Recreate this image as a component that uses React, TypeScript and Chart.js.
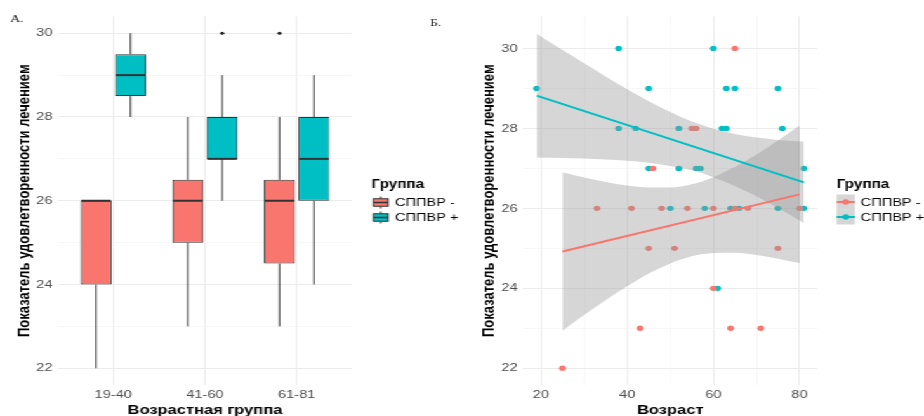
import React, { useEffect, useRef } from 'react';
import { Chart, registerables } from 'chart.js';

Chart.register(...registerables);

// ---------- data ----------
const groupLabels = ['19-40', '41-60', '61-81'];
const seriesNames = ['СППВР -', 'СППВР +'];
const seriesColors = ['#F8766D', '#00BFC4'];

// box plot statistics (Панель А)
const minusLower = [22, 23, 23];
const minusQ1 = [24, 25, 24.5];
const minusMedian = [26, 26, 26];
const minusQ3 = [26, 26.5, 26.5];
const minusUpper = [26, 28, 28];
const minusOutliers: number[][] = [[], [], [30]];

const plusLower = [28, 26, 24];
const plusQ1 = [28.5, 27, 26];
const plusMedian = [29, 27, 27];
const plusQ3 = [29.5, 28, 28];
const plusUpper = [30, 29, 29];
const plusOutliers: number[][] = [[], [30], []];

// scatter points (Панель Б)
const minusAge = [25, 33, 41, 43, 45, 46, 48, 51, 54, 55, 56, 60, 60, 64, 65, 65, 68, 71, 75, 80];
const minusScore = [22, 26, 26, 23, 25, 27, 26, 25, 26, 28, 28, 26, 24, 23, 30, 26, 26, 23, 25, 26];
const plusAge = [19, 38, 38, 42, 45, 45, 50, 52, 52, 56, 57, 58, 60, 61, 62, 63, 63, 64, 65, 66, 75, 75, 76, 81, 81];
const plusScore = [29, 30, 28, 28, 29, 27, 26, 28, 27, 27, 27, 26, 30, 24, 28, 29, 28, 26, 29, 26, 29, 26, 28, 27, 26];

// fitted lines
const minusFitAge = [25, 80];
const minusFit = [24.92, 26.35];
const plusFitAge = [19, 81];
const plusFit = [28.82, 26.65];

// confidence bands
const minusBandAge = [25, 30, 35, 40, 45, 50, 55, 60, 65, 70, 75, 80];
const minusBandUpper = [26.9, 26.77, 26.66, 26.57, 26.52, 26.52, 26.6, 26.78, 27.04, 27.35, 27.7, 28.07];
const minusBandLower = [22.94, 23.33, 23.7, 24.05, 24.37, 24.62, 24.8, 24.88, 24.89, 24.83, 24.74, 24.63];
const plusBandAge = [19, 25, 30, 35, 40, 45, 50, 55, 60, 65, 70, 75, 81];
const plusBandUpper = [30.37, 29.96, 29.63, 29.3, 28.98, 28.68, 28.41, 28.17, 27.99, 27.86, 27.77, 27.71, 27.67];
const plusBandLower = [27.27, 27.26, 27.25, 27.22, 27.19, 27.14, 27.06, 26.95, 26.78, 26.56, 26.3, 26.01, 25.63];

const yTitle = 'Показатель удовлетворенности лечением';
const legendTitle = 'Группа';

// ---------- styling ----------
const FONT = "'Liberation Sans', Arial, Helvetica, sans-serif";
const SERIF = "'Liberation Serif', 'Times New Roman', serif";
const STRETCH = 924 / 728;
const GRID_MAJOR = '#EBEBEB';
const GRID_MINOR = '#F3F3F3';
const TICK_COLOR = '#4D4D4D';
const OUTLINE = '#333333';
const BAND = 'rgba(153,153,153,0.4)';
const DODGE = 0.1875;

const tickFont = { family: FONT, size: 11.5 };
const titleFontY = { family: FONT, size: 13, weight: 'bold' as const, lineHeight: 1.2 };
const titleFontX = { family: FONT, size: 13, weight: 'bold' as const, lineHeight: 0.9 };

function pts(xs: number[], ys: number[]) {
  return xs.map((x, i) => ({ x, y: ys[i] }));
}

// ---------- left chart plugins ----------
const boxStats = [
  { lower: minusLower, median: minusMedian, q1: minusQ1, q3: minusQ3, upper: minusUpper },
  { lower: plusLower, median: plusMedian, q1: plusQ1, q3: plusQ3, upper: plusUpper },
];

const boxPlugin = {
  id: 'boxParts',
  beforeDatasetsDraw(chart: any) {
    const ctx = chart.ctx;
    const y = chart.scales.y;
    ctx.save();
    ctx.strokeStyle = OUTLINE;
    ctx.lineWidth = 1;
    boxStats.forEach((s, d) => {
      const meta = chart.getDatasetMeta(d);
      meta.data.forEach((el: any, i: number) => {
        ctx.beginPath();
        ctx.moveTo(el.x, y.getPixelForValue(s.q3[i]));
        ctx.lineTo(el.x, y.getPixelForValue(s.upper[i]));
        ctx.moveTo(el.x, y.getPixelForValue(s.q1[i]));
        ctx.lineTo(el.x, y.getPixelForValue(s.lower[i]));
        ctx.stroke();
      });
    });
    ctx.restore();
  },
  afterDatasetsDraw(chart: any) {
    const ctx = chart.ctx;
    const y = chart.scales.y;
    ctx.save();
    ctx.strokeStyle = OUTLINE;
    ctx.lineWidth = 2;
    boxStats.forEach((s, d) => {
      const meta = chart.getDatasetMeta(d);
      meta.data.forEach((el: any, i: number) => {
        const yy = y.getPixelForValue(s.median[i]);
        ctx.beginPath();
        ctx.moveTo(el.x - el.width / 2 + 0.5, yy);
        ctx.lineTo(el.x + el.width / 2 - 0.5, yy);
        ctx.stroke();
      });
    });
    ctx.restore();
  },
};

const leftDecor = {
  id: 'leftDecor',
  afterDraw(chart: any) {
    const ctx = chart.ctx;
    ctx.save();
    // panel letters
    ctx.fillStyle = '#222';
    ctx.font = `11px ${SERIF}`;
    ctx.textBaseline = 'middle';
    ctx.textAlign = 'left';
    ctx.fillText('А.', 7.9, 19.5);
    ctx.fillText('Б.', 338.8, 23.5);
    // legend
    const x0 = 292.8;
    ctx.fillStyle = '#000';
    ctx.font = `bold 12px ${FONT}`;
    ctx.fillText(legendTitle, x0, 185);
    const w = 14.4;
    const h = 15;
    [195, 210].forEach((y0, k) => {
      const cx = x0 + w / 2;
      ctx.strokeStyle = OUTLINE;
      ctx.lineWidth = 1;
      ctx.beginPath();
      ctx.moveTo(cx, y0 + 1.5);
      ctx.lineTo(cx, y0 + 3.75);
      ctx.moveTo(cx, y0 + 11.25);
      ctx.lineTo(cx, y0 + 13.5);
      ctx.stroke();
      ctx.fillStyle = seriesColors[k];
      ctx.fillRect(x0 + 1.4, y0 + 3.75, w - 2.8, 7.5);
      ctx.strokeRect(x0 + 1.4, y0 + 3.75, w - 2.8, 7.5);
      ctx.lineWidth = 1.5;
      ctx.beginPath();
      ctx.moveTo(x0 + 1.4, y0 + h / 2);
      ctx.lineTo(x0 + w - 1.4, y0 + h / 2);
      ctx.stroke();
      ctx.fillStyle = '#000';
      ctx.font = `11.5px ${FONT}`;
      ctx.fillText(seriesNames[k], 311.2, y0 + h / 2);
    });
    ctx.restore();
  },
};

const rightDecor = {
  id: 'rightDecor',
  afterDraw(chart: any) {
    const ctx = chart.ctx;
    ctx.save();
    const x0 = 295.2;
    ctx.textBaseline = 'middle';
    ctx.textAlign = 'left';
    ctx.fillStyle = '#000';
    ctx.font = `bold 12px ${FONT}`;
    ctx.fillText(legendTitle, x0, 185);
    const w = 14.4;
    const h = 15;
    [194.5, 209.5].forEach((y0, k) => {
      ctx.fillStyle = BAND;
      ctx.fillRect(x0, y0, w, h);
      ctx.strokeStyle = seriesColors[k];
      ctx.lineWidth = 2;
      ctx.beginPath();
      ctx.moveTo(x0, y0 + h / 2);
      ctx.lineTo(x0 + w, y0 + h / 2);
      ctx.stroke();
      ctx.fillStyle = seriesColors[k];
      ctx.beginPath();
      ctx.arc(x0 + w / 2, y0 + h / 2, 2.65, 0, Math.PI * 2);
      ctx.fill();
      ctx.fillStyle = '#000';
      ctx.font = `11.5px ${FONT}`;
      ctx.fillText(seriesNames[k], 314.1, y0 + h / 2 + 0.5);
    });
    ctx.restore();
  },
};

function yScale(min: number, max: number, width: number, titlePad: number) {
  return {
    type: 'linear' as const,
    min,
    max,
    grid: {
      color: (c: any) => (c.tick && c.tick.value % 2 === 0 ? GRID_MAJOR : GRID_MINOR),
      lineWidth: (c: any) => (c.tick && c.tick.value % 2 === 0 ? 1 : 0.7),
      drawTicks: false,
    },
    border: { display: false },
    ticks: {
      stepSize: 1,
      includeBounds: false,
      autoSkip: false,
      padding: 4.5,
      color: TICK_COLOR,
      font: tickFont,
      callback: (v: any) => (Number(v) % 2 === 0 ? String(v) : ''),
    },
    title: { display: true, text: yTitle, color: '#000', font: titleFontY, padding: { top: titlePad, bottom: 0 } },
    afterFit: (s: any) => {
      s.width = width;
    },
  };
}

function leftConfig(): any {
  const boxData = (q1: number[], q3: number[], side: number) =>
    groupLabels.map((_, i) => ({ x: i + 1 + side * DODGE, y: [q1[i], q3[i]] }));
  const outlierPts: { x: number; y: number }[] = [];
  minusOutliers.forEach((arr, i) => arr.forEach((v) => outlierPts.push({ x: i + 1 - DODGE, y: v })));
  plusOutliers.forEach((arr, i) => arr.forEach((v) => outlierPts.push({ x: i + 1 + DODGE, y: v })));
  return {
    type: 'bar',
    data: {
      datasets: [
        {
          type: 'bar',
          label: seriesNames[0],
          data: boxData(minusQ1, minusQ3, -1),
          backgroundColor: seriesColors[0],
          borderColor: OUTLINE,
          borderWidth: 1,
          borderSkipped: false,
          grouped: false,
          categoryPercentage: 1,
          barPercentage: 0.9,
        },
        {
          type: 'bar',
          label: seriesNames[1],
          data: boxData(plusQ1, plusQ3, 1),
          backgroundColor: seriesColors[1],
          borderColor: OUTLINE,
          borderWidth: 1,
          borderSkipped: false,
          grouped: false,
          categoryPercentage: 1,
          barPercentage: 0.9,
        },
        {
          type: 'scatter',
          label: 'outliers',
          data: outlierPts,
          backgroundColor: '#222222',
          borderWidth: 0,
          pointRadius: 1.6,
        },
      ],
    },
    options: {
      responsive: false,
      animation: false,
      events: [],
      layout: { padding: { left: 0, right: 86.9, top: 16.5, bottom: 0 } },
      plugins: { legend: { display: false }, tooltip: { enabled: false } },
      scales: {
        x: {
          type: 'linear',
          min: 0.4,
          max: 3.6,
          offset: false,
          grid: { color: GRID_MAJOR, lineWidth: 1, drawTicks: false, offset: false },
          border: { display: false },
          ticks: {
            stepSize: 1,
            includeBounds: false,
            autoSkip: false,
            maxRotation: 0,
            padding: 3,
            color: TICK_COLOR,
            font: tickFont,
            callback: (v: any) => groupLabels[Math.round(Number(v)) - 1] ?? '',
          },
          title: { display: true, text: 'Возрастная группа', color: '#000', font: titleFontX, padding: { top: 0, bottom: 0 } },
          afterFit: (s: any) => {
            s.height = 31;
          },
        },
        y: yScale(21.6, 30.4, 45.9, 11.9),
      },
    },
    plugins: [boxPlugin, leftDecor],
  };
}

function rightConfig(): any {
  const bandStyle = { type: 'line', borderWidth: 0, pointRadius: 0, cubicInterpolationMode: 'monotone', backgroundColor: BAND, order: 2 };
  return {
    type: 'scatter',
    data: {
      datasets: [
        { label: seriesNames[0], data: pts(minusAge, minusScore), backgroundColor: seriesColors[0], borderWidth: 0, pointRadius: 2.65, order: 3 },
        { label: seriesNames[1], data: pts(plusAge, plusScore), backgroundColor: seriesColors[1], borderWidth: 0, pointRadius: 2.65, order: 3 },
        { ...bandStyle, label: 'band- upper', data: pts(minusBandAge, minusBandUpper), fill: false },
        { ...bandStyle, label: 'band- lower', data: pts(minusBandAge, minusBandLower), fill: '-1' },
        { ...bandStyle, label: 'band+ upper', data: pts(plusBandAge, plusBandUpper), fill: false },
        { ...bandStyle, label: 'band+ lower', data: pts(plusBandAge, plusBandLower), fill: '-1' },
        { type: 'line', label: 'fit-', data: pts(minusFitAge, minusFit), borderColor: seriesColors[0], borderWidth: 2, pointRadius: 0, fill: false, order: 1 },
        { type: 'line', label: 'fit+', data: pts(plusFitAge, plusFit), borderColor: seriesColors[1], borderWidth: 2, pointRadius: 0, fill: false, order: 1 },
      ],
    },
    options: {
      responsive: false,
      animation: false,
      events: [],
      layout: { padding: { left: 0, right: 84.1, top: 16.5, bottom: 0 } },
      plugins: { legend: { display: false }, tooltip: { enabled: false } },
      scales: {
        x: {
          type: 'linear',
          min: 15.9,
          max: 84.1,
          offset: false,
          grid: {
            color: (c: any) => (c.tick && c.tick.value % 20 === 0 ? GRID_MAJOR : GRID_MINOR),
            lineWidth: (c: any) => (c.tick && c.tick.value % 20 === 0 ? 1 : 0.7),
            drawTicks: false,
          },
          border: { display: false },
          ticks: {
            stepSize: 10,
            includeBounds: false,
            autoSkip: false,
            maxRotation: 0,
            padding: 3,
            color: TICK_COLOR,
            font: tickFont,
            callback: (v: any) => (Number(v) % 20 === 0 ? String(v) : ''),
          },
          title: { display: true, text: 'Возраст', color: '#000', font: titleFontX, padding: { top: 0, bottom: 0 } },
          afterFit: (s: any) => {
            s.height = 31;
          },
        },
        y: yScale(21.58, 30.8, 48.3, 13.5),
      },
    },
    plugins: [rightDecor],
  };
}

export default function App() {
  const leftRef = useRef<HTMLCanvasElement>(null);
  const rightRef = useRef<HTMLCanvasElement>(null);
  useEffect(() => {
    const c1 = new Chart(leftRef.current as HTMLCanvasElement, leftConfig());
    const c2 = new Chart(rightRef.current as HTMLCanvasElement, rightConfig());
    return () => {
      c1.destroy();
      c2.destroy();
    };
  }, []);
  return (
    <div
      style={{
        position: 'fixed',
        left: 0,
        top: 0,
        width: 728,
        height: 416,
        display: 'flex',
        background: '#ffffff',
        transform: `scaleX(${STRETCH})`,
        transformOrigin: '0 0',
      }}
    >
      <canvas ref={leftRef} width={364} height={416} style={{ width: 364, height: 416, display: 'block' }} />
      <canvas ref={rightRef} width={364} height={416} style={{ width: 364, height: 416, display: 'block' }} />
    </div>
  );
}
